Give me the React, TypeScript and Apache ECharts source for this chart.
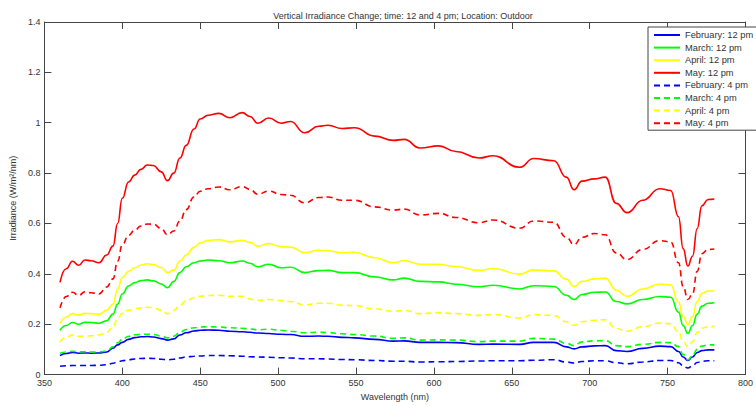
import React, { useEffect, useRef } from "react";
import * as echarts from "echarts";

const wavelengths = [360,364,368,372,376,380,385,390,394,397,400,404,408,412,416,420,425,429,433,437,441,446,450,455,462,469,477,482,487,494,502,508,517,526,532,541,549,562,574,581,591,603,614,629,638,655,664,677,685,690,695,703,710,717,724,734,745,752,757,760,763,766,769,772,776,780];

const febNoon = [0.075,0.084,0.088,0.085,0.086,0.085,0.086,0.09,0.105,0.118,0.128,0.14,0.147,0.15,0.151,0.149,0.143,0.137,0.142,0.157,0.166,0.173,0.176,0.177,0.176,0.172,0.17,0.168,0.165,0.163,0.16,0.159,0.152,0.153,0.152,0.148,0.146,0.14,0.133,0.134,0.128,0.128,0.127,0.12,0.121,0.12,0.128,0.128,0.11,0.102,0.11,0.114,0.115,0.095,0.092,0.104,0.113,0.111,0.092,0.07,0.056,0.07,0.088,0.095,0.098,0.098];
const marNoon = [0.176,0.195,0.207,0.2,0.208,0.207,0.204,0.214,0.24,0.28,0.32,0.352,0.365,0.373,0.376,0.372,0.36,0.345,0.37,0.405,0.428,0.444,0.451,0.455,0.452,0.444,0.451,0.442,0.428,0.438,0.424,0.426,0.405,0.413,0.414,0.405,0.405,0.388,0.376,0.383,0.37,0.368,0.359,0.349,0.355,0.34,0.353,0.35,0.315,0.298,0.318,0.327,0.328,0.29,0.281,0.298,0.31,0.307,0.248,0.195,0.163,0.195,0.24,0.272,0.283,0.285];
const aprNoon = [0.203,0.228,0.242,0.236,0.243,0.242,0.239,0.255,0.28,0.34,0.385,0.41,0.424,0.435,0.44,0.437,0.425,0.405,0.415,0.45,0.475,0.505,0.523,0.533,0.536,0.527,0.533,0.525,0.51,0.52,0.508,0.506,0.484,0.494,0.492,0.484,0.486,0.464,0.444,0.453,0.438,0.438,0.429,0.414,0.421,0.399,0.416,0.412,0.379,0.35,0.37,0.38,0.383,0.335,0.311,0.34,0.36,0.356,0.287,0.23,0.199,0.23,0.29,0.322,0.332,0.333];
const mayNoon = [0.366,0.42,0.45,0.434,0.455,0.452,0.444,0.475,0.51,0.6,0.7,0.765,0.792,0.815,0.832,0.83,0.805,0.77,0.8,0.86,0.91,0.975,1.015,1.03,1.037,1.02,1.04,1.025,0.998,1.019,0.998,1.005,0.96,0.986,0.99,0.977,0.98,0.947,0.93,0.934,0.9,0.908,0.886,0.86,0.869,0.823,0.858,0.849,0.784,0.734,0.768,0.777,0.784,0.68,0.643,0.692,0.738,0.731,0.627,0.5,0.431,0.47,0.58,0.67,0.695,0.697];
const febPm = [0.033,0.035,0.036,0.036,0.036,0.036,0.037,0.039,0.045,0.05,0.055,0.059,0.062,0.064,0.065,0.064,0.061,0.059,0.061,0.066,0.07,0.073,0.074,0.076,0.076,0.075,0.073,0.071,0.07,0.069,0.067,0.066,0.063,0.063,0.062,0.06,0.059,0.056,0.053,0.053,0.05,0.051,0.052,0.054,0.055,0.055,0.057,0.059,0.05,0.046,0.052,0.055,0.055,0.047,0.043,0.05,0.056,0.056,0.047,0.035,0.026,0.035,0.048,0.053,0.055,0.055];
const marPm = [0.085,0.09,0.093,0.09,0.091,0.09,0.09,0.094,0.11,0.126,0.14,0.152,0.158,0.16,0.16,0.159,0.153,0.146,0.152,0.168,0.179,0.186,0.189,0.19,0.189,0.186,0.184,0.181,0.178,0.18,0.176,0.172,0.166,0.168,0.167,0.162,0.159,0.153,0.144,0.146,0.137,0.138,0.137,0.131,0.133,0.133,0.144,0.141,0.124,0.115,0.13,0.134,0.135,0.115,0.111,0.12,0.128,0.127,0.111,0.08,0.059,0.075,0.1,0.113,0.118,0.118];
const aprPm = [0.13,0.148,0.157,0.152,0.152,0.154,0.157,0.168,0.19,0.222,0.243,0.255,0.261,0.265,0.267,0.266,0.255,0.242,0.255,0.275,0.293,0.305,0.311,0.314,0.315,0.311,0.311,0.3,0.294,0.298,0.294,0.29,0.277,0.283,0.283,0.276,0.274,0.261,0.251,0.255,0.242,0.246,0.242,0.235,0.239,0.225,0.238,0.235,0.21,0.196,0.21,0.216,0.218,0.183,0.172,0.19,0.205,0.202,0.17,0.13,0.111,0.13,0.168,0.185,0.19,0.192];
const mayPm = [0.265,0.31,0.327,0.314,0.329,0.325,0.32,0.348,0.38,0.45,0.515,0.553,0.574,0.59,0.598,0.597,0.58,0.555,0.57,0.61,0.655,0.705,0.728,0.738,0.745,0.734,0.747,0.735,0.716,0.729,0.715,0.712,0.682,0.703,0.705,0.692,0.692,0.666,0.653,0.657,0.634,0.64,0.624,0.603,0.614,0.581,0.61,0.605,0.545,0.516,0.545,0.56,0.555,0.483,0.457,0.497,0.532,0.527,0.444,0.35,0.298,0.32,0.41,0.48,0.497,0.499];

const seriesNames = ["February: 12 pm","March: 12 pm","April: 12 pm","May: 12 pm","February: 4 pm","March: 4 pm","April: 4 pm","May: 4 pm"];
const seriesValues = [febNoon, marNoon, aprNoon, mayNoon, febPm, marPm, aprPm, mayPm];
const seriesColors = ["#0000ff","#00ff00","#ffff00","#ff0000","#0000ff","#00ff00","#ffff00","#ff0000"];
const seriesDashed = [false,false,false,false,true,true,true,true];

const FONT = "'Liberation Sans', Arial, Helvetica, sans-serif";
const AX = "#454545";

export default function App() {
  const ref = useRef<HTMLDivElement>(null);
  useEffect(() => {
    if (!ref.current) return;
    const chart = echarts.init(ref.current, undefined, { renderer: "svg" });
    const baseX = {
      type: "value" as const,
      min: 350,
      max: 800,
      interval: 50,
      splitLine: { show: false },
      axisLine: { show: true, onZero: false, lineStyle: { color: AX, width: 1 } },
      axisTick: { show: true, inside: true, length: 7, lineStyle: { color: AX } },
    };
    const baseY = {
      type: "value" as const,
      min: 0,
      max: 1.4,
      interval: 0.2,
      splitLine: { show: false },
      axisLine: { show: true, onZero: false, lineStyle: { color: AX, width: 1 } },
      axisTick: { show: true, inside: true, length: 7, lineStyle: { color: AX } },
    };
    chart.setOption({
      animation: false,
      backgroundColor: "#ffffff",
      textStyle: { fontFamily: FONT },
      title: {
        text: "Vertical Irradiance Change; time: 12 and 4 pm; Location: Outdoor",
        left: 398,
        top: 6,
        textAlign: "center",
        textStyle: { fontSize: 9, fontWeight: "normal", color: "#333", fontFamily: FONT },
      },
      grid: { left: 41, right: 1, top: 22, bottom: 26, show: false },
      legend: {
        orient: "vertical",
        left: 648,
        top: 27,
        data: seriesNames,
        backgroundColor: "#ffffff",
        borderColor: AX,
        borderWidth: 1,
        borderRadius: 0,
        padding: [3, 5, 2, 5],
        itemWidth: 26,
        itemHeight: 10,
        itemGap: 2.6,
        itemStyle: { opacity: 0 },
        textStyle: { fontSize: 9.3, lineHeight: 10, color: "#333", fontFamily: FONT },
        selectedMode: false,
      },
      xAxis: [
        {
          ...baseX,
          position: "bottom",
          name: "Wavelength (nm)",
          nameLocation: "middle",
          nameGap: 15,
          nameTextStyle: { fontSize: 9, color: "#333", fontFamily: FONT },
          axisLabel: { fontSize: 9, lineHeight: 8, color: "#333", margin: 4, fontFamily: FONT },
        },
        { ...baseX, position: "top", axisLabel: { show: false } },
      ],
      yAxis: [
        {
          ...baseY,
          position: "left",
          name: "Irradiance (W/m²/nm)",
          nameLocation: "middle",
          nameGap: 21,
          nameTextStyle: { fontSize: 9, color: "#333", fontFamily: FONT },
          axisLabel: { fontSize: 9, lineHeight: 8, color: "#333", margin: 4, fontFamily: FONT },
        },
        { ...baseY, position: "right", axisLabel: { show: false } },
      ],
      series: seriesNames.map((name, k) => ({
        name,
        type: "line",
        xAxisIndex: 0,
        yAxisIndex: 0,
        data: wavelengths.map((w, i) => [w, seriesValues[k][i]]),
        symbol: "none",
        smooth: 0.5,
        smoothMonotone: "x",
        color: seriesColors[k],
        lineStyle: {
          color: seriesColors[k],
          width: 1.6,
          type: seriesDashed[k] ? [6, 4] : "solid",
        },
      })),
    });
    return () => chart.dispose();
  }, []);
  return (
    <div
      ref={ref}
      style={{ position: "fixed", left: 0, top: 0, width: 756, height: 406, background: "#fff" }}
    />
  );
}
